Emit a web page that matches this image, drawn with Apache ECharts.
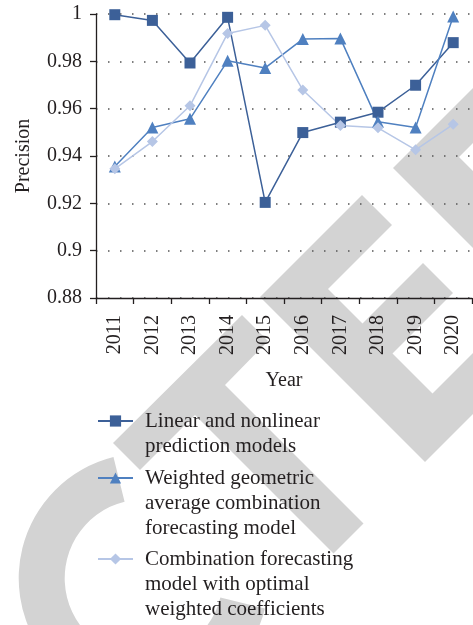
<!DOCTYPE html>
<html><head><meta charset="utf-8">
<script src="https://cdn.jsdelivr.net/npm/echarts@6/dist/echarts.min.js"></script>
<style>html,body{margin:0;padding:0;background:#fff}#c{width:473px;height:625px}</style>
</head><body><div id="c"></div>
<script>
// ---- data ----
const years = ['2011','2012','2013','2014','2015','2016','2017','2018','2019','2020'];
const linearNonlinear   = [0.9997,0.9973,0.9793,0.9986,0.9204,0.9499,0.9543,0.9585,0.9699,0.9879];
const weightedGeometric = [0.9356,0.9520,0.9557,0.9802,0.9772,0.9894,0.9897,0.9545,0.9520,0.9989];
const optimalWeighted   = [0.9346,0.9461,0.9612,0.9918,0.9952,0.9679,0.9529,0.9519,0.9426,0.9534];
const seriesNames = [
  'Linear and nonlinear\nprediction models',
  'Weighted geometric\naverage combination\nforecasting model',
  'Combination forecasting\nmodel with optimal\nweighted coefficients'
];
const yMin = 0.88, yMax = 1, yStep = 0.02;
const xTitle = 'Year', yTitle = 'Precision';

// ---- style ----
const FONT = 'Liberation Serif';
const INK = '#231f20';
const colors = ['#3c6098', '#4f80c0', '#b6c6e6'];
const symbols = ['rect', 'triangle', 'diamond'];
const symbolSizes = [11, 12, 11];
const WM = '#d3d3d3';

const chart = echarts.init(document.getElementById('c'), null, {renderer: 'canvas'});

const valuesList = [linearNonlinear, weightedGeometric, optimalWeighted];
const legendTops = [383.5, 415.5, 496.5];

const wmPolys = [
  [[113,443],[242,315],[268,341],[225,385],[363.5,523.5],[333.5,553.5],[195,415],[140,470]],
  [[260,297],[362,195],[392,225],[328,289],[362.5,323.5],[423,263],[453,293],[392.5,353.5],[432.5,393.5],[520,306],[550,337],[425,462]],
  [[393,168],[520,41],[548,68],[459,157],[560,258],[560,335]]
];
const graphics = wmPolys.map(p => ({
  type: 'polygon', z: -10, silent: true,
  shape: {points: p}, style: {fill: WM}
}));
graphics.push({
  type: 'sector', z: -10, silent: true,
  shape: {cx: 143.7, cy: 578.3, r: 125, r0: 79,
          startAngle: 14 * Math.PI / 180, endAngle: 256 * Math.PI / 180, clockwise: true},
  style: {fill: WM}
});

chart.setOption({
  backgroundColor: '#ffffff',
  animation: false,
  graphic: graphics,
  grid: {left: 96, right: 1, top: 14, bottom: 327, containLabel: false},
  xAxis: {
    type: 'category', data: years, boundaryGap: true,
    name: xTitle, nameLocation: 'middle', nameGap: 73,
    nameTextStyle: {fontFamily: FONT, fontSize: 20, color: INK},
    axisLine: {lineStyle: {color: INK, width: 1.3}},
    axisTick: {show: true, length: 6, lineStyle: {color: INK, width: 1.3}},
    axisLabel: {rotate: 90, margin: 17, fontFamily: FONT, fontSize: 20, color: INK},
    splitLine: {show: false}
  },
  yAxis: {
    type: 'value', min: yMin, max: yMax, interval: yStep,
    name: yTitle, nameLocation: 'middle', nameGap: 62,
    nameTextStyle: {fontFamily: FONT, fontSize: 20, color: INK},
    axisLine: {show: true, lineStyle: {color: INK, width: 1.3}},
    axisTick: {show: true, length: 6, lineStyle: {color: INK, width: 1.3}},
    axisLabel: {margin: 14, fontFamily: FONT, fontSize: 20, color: INK},
    splitLine: {show: true, lineStyle: {color: '#555', width: 1.5, type: [1.5, 10.5]}}
  },
  legend: seriesNames.map((n, i) => {
    const lines = n.split('\n').length;
    return {
      data: [n], orient: 'vertical', left: 97, top: legendTops[i], padding: 0,
      itemWidth: 35, itemHeight: 14, selectedMode: false,
      formatter: name => '\n'.repeat(lines - 1) + name,
      textStyle: {fontFamily: FONT, fontSize: 21, lineHeight: 25, color: INK,
                  padding: [0, 0, 0, 7]}
    };
  }),
  series: seriesNames.map((n, i) => ({
    name: n, type: 'line', data: valuesList[i],
    symbol: symbols[i], symbolSize: symbolSizes[i], showAllSymbol: true,
    lineStyle: {color: colors[i], width: 1.5},
    itemStyle: {color: colors[i], borderWidth: 0},
    emphasis: {disabled: true}
  }))
});
</script></body></html>
